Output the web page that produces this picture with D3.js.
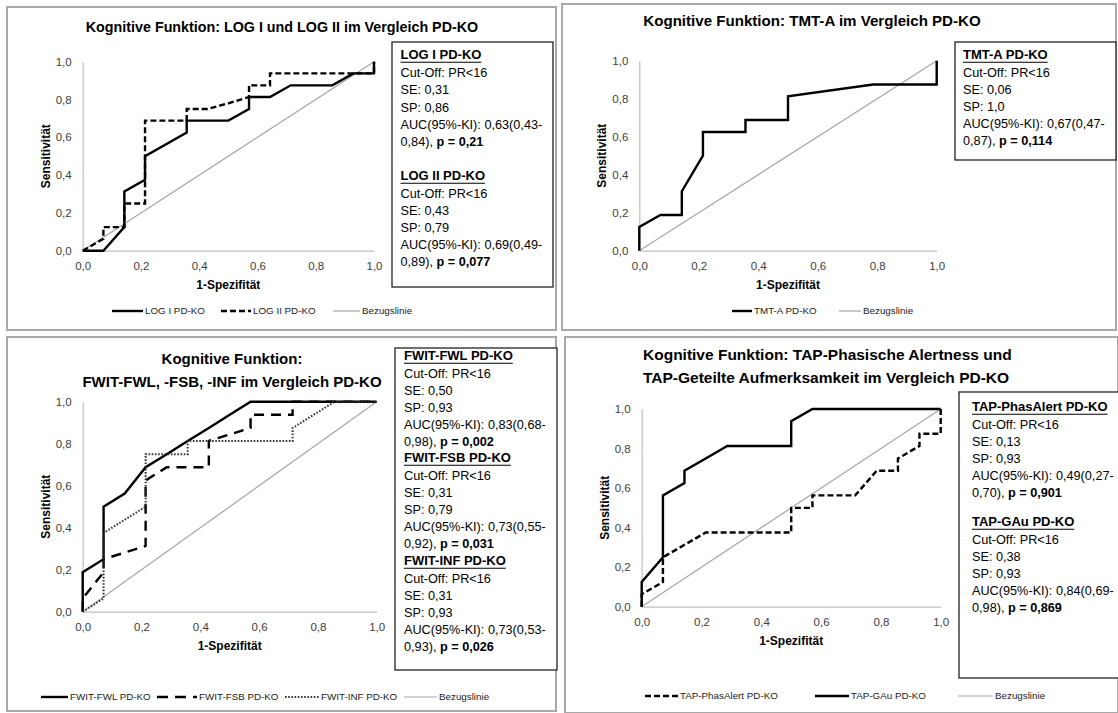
<!DOCTYPE html>
<html><head><meta charset="utf-8">
<script src="https://cdn.jsdelivr.net/npm/d3@7"></script>
<style>
body{margin:0;background:#fff;}
svg{display:block;}
text{font-family:"Liberation Sans","Arial",sans-serif;}
</style></head><body>
<svg id="c" width="1118" height="713"></svg>
<script>
// ---------- DATA ----------
const axisTicks = [0, 0.2, 0.4, 0.6, 0.8, 1.0];

const logI_x  = [0, 0.071, 0.143, 0.143, 0.214, 0.214, 0.357, 0.357, 0.5, 0.571, 0.571, 0.643, 0.714, 0.857, 0.929, 1, 1];
const logI_y  = [0, 0, 0.125, 0.313, 0.375, 0.5, 0.625, 0.688, 0.688, 0.75, 0.813, 0.813, 0.875, 0.875, 0.938, 0.938, 1];
const logII_x = [0, 0.071, 0.071, 0.143, 0.143, 0.214, 0.214, 0.357, 0.357, 0.429, 0.5, 0.571, 0.571, 0.643, 0.643, 1, 1];
const logII_y = [0, 0.063, 0.125, 0.125, 0.25, 0.25, 0.688, 0.688, 0.75, 0.75, 0.78, 0.813, 0.875, 0.875, 0.938, 0.938, 1];

const tmtA_x = [0, 0, 0.071, 0.143, 0.143, 0.214, 0.214, 0.357, 0.357, 0.5, 0.5, 0.786, 1, 1];
const tmtA_y = [0, 0.125, 0.188, 0.188, 0.313, 0.5, 0.625, 0.625, 0.688, 0.688, 0.813, 0.875, 0.875, 1];

const fwl_x = [0, 0, 0.071, 0.071, 0.143, 0.214, 0.286, 0.357, 0.429, 0.5, 0.571, 1];
const fwl_y = [0, 0.188, 0.25, 0.5, 0.563, 0.688, 0.75, 0.813, 0.875, 0.938, 1, 1];
const fsb_x = [0, 0, 0.071, 0.071, 0.214, 0.214, 0.286, 0.429, 0.429, 0.571, 0.571, 0.714, 0.714, 1];
const fsb_y = [0, 0.063, 0.188, 0.25, 0.313, 0.625, 0.688, 0.688, 0.813, 0.875, 0.938, 0.938, 1, 1];
const inf_x = [0, 0.071, 0.071, 0.214, 0.214, 0.357, 0.357, 0.714, 0.714, 0.786, 0.857, 1];
const inf_y = [0, 0.063, 0.375, 0.5, 0.75, 0.75, 0.813, 0.813, 0.875, 0.938, 1, 1];

const phas_x = [0, 0, 0.071, 0.071, 0.143, 0.214, 0.5, 0.5, 0.571, 0.571, 0.714, 0.786, 0.857, 0.857, 0.929, 0.929, 1, 1];
const phas_y = [0, 0.063, 0.125, 0.25, 0.313, 0.375, 0.375, 0.5, 0.5, 0.563, 0.563, 0.688, 0.688, 0.75, 0.813, 0.875, 0.875, 1];
const gau_x = [0, 0, 0.071, 0.071, 0.143, 0.143, 0.214, 0.286, 0.5, 0.5, 0.571, 1];
const gau_y = [0, 0.125, 0.25, 0.563, 0.625, 0.688, 0.75, 0.813, 0.813, 0.938, 1, 1];

const ref_x = [0, 1];
const ref_y = [0, 1];

const titles = [
  ["Kognitive Funktion: LOG I und LOG II im Vergleich PD-KO"],
  ["Kognitive Funktion: TMT-A im Vergleich PD-KO"],
  ["Kognitive Funktion:", "FWIT-FWL, -FSB, -INF im Vergleich PD-KO"],
  ["Kognitive Funktion: TAP-Phasische Alertness und", "TAP-Geteilte Aufmerksamkeit im Vergleich PD-KO"]
];

// stat boxes: [heading, cutoff, SE, SP, AUC line1, AUC line2 prefix, p value]
const stats1 = [
  ["LOG I PD-KO", "Cut-Off: PR<16", "SE: 0,31", "SP: 0,86", "AUC(95%-KI): 0,63(0,43-", "0,84), ", "0,21"],
  ["LOG II PD-KO", "Cut-Off: PR<16", "SE: 0,43", "SP: 0,79", "AUC(95%-KI): 0,69(0,49-", "0,89), ", "0,077"]
];
const stats2 = [
  ["TMT-A PD-KO", "Cut-Off: PR<16", "SE: 0,06", "SP: 1,0", "AUC(95%-KI): 0,67(0,47-", "0,87), ", "0,114"]
];
const stats3 = [
  ["FWIT-FWL PD-KO", "Cut-Off: PR<16", "SE: 0,50", "SP: 0,93", "AUC(95%-KI): 0,83(0,68-", "0,98), ", "0,002"],
  ["FWIT-FSB PD-KO", "Cut-Off: PR<16", "SE: 0,31", "SP: 0,79", "AUC(95%-KI): 0,73(0,55-", "0,92), ", "0,031"],
  ["FWIT-INF PD-KO", "Cut-Off: PR<16", "SE: 0,31", "SP: 0,93", "AUC(95%-KI): 0,73(0,53-", "0,93), ", "0,026"]
];
const stats4 = [
  ["TAP-PhasAlert PD-KO", "Cut-Off: PR<16", "SE: 0,13", "SP: 0,93", "AUC(95%-KI): 0,49(0,27-", "0,70), ", "0,901"],
  ["TAP-GAu PD-KO", "Cut-Off: PR<16", "SE: 0,38", "SP: 0,93", "AUC(95%-KI): 0,84(0,69-", "0,98), ", "0,869"]
];

// ---------- STYLES ----------
const ST = {
  solid:  {stroke:"#000", width:2.4, dash:null},
  dash:   {stroke:"#000", width:2.4, dash:"6,3"},
  ldash:  {stroke:"#000", width:2.4, dash:"10,7"},
  dot:    {stroke:"#333", width:2.0, dash:"1.6,1.6"},
  ref:    {stroke:"#a6a6a6", width:1.2, dash:null}
};
const zip = (xs, ys) => xs.map((x, i) => [x, ys[i]]);

const panels = [
  { frame:[7,7,556,330], plot:[82.7,374,250.7,61.7], title:titles[0], titleX:282, titleY:28, titleAnchor:"middle", titleSize:14.3,
    series:[{d:zip(logI_x,logI_y),s:ST.solid,name:"LOG I PD-KO"},{d:zip(logII_x,logII_y),s:ST.dash,name:"LOG II PD-KO"}],
    legend:{y:311, items:[[112,145,0],[221,253,1],[333,362,"ref"]]},
    box:[392,42,553,287], tx:400.5, stats:stats1, lineYs:[[56,73,90,108,125,142],[177,194,211,228,245,262]] },
  { frame:[562,4,1116,330], plot:[639.3,936.7,250.7,60.7], title:titles[1], titleX:812, titleY:22, titleAnchor:"middle", titleSize:15.1,
    series:[{d:zip(tmtA_x,tmtA_y),s:ST.solid,name:"TMT-A PD-KO"}],
    legend:{y:311, items:[[732,754,0],[839,863,"ref"]]},
    box:[955,42,1116,160], tx:963, stats:stats2, lineYs:[[56,73,90,107,124,141]] },
  { frame:[7,337,556,711], plot:[82.7,376.7,611.7,401.7], title:titles[2], titleX:232, titleY:360, titleAnchor:"middle", titleSize:15,
    series:[{d:zip(fwl_x,fwl_y),s:ST.solid,name:"FWIT-FWL PD-KO"},{d:zip(fsb_x,fsb_y),s:ST.ldash,name:"FWIT-FSB PD-KO"},{d:zip(inf_x,inf_y),s:ST.dot,name:"FWIT-INF PD-KO"}],
    legend:{y:697, items:[[41,70,0],[157,199,1,"11,7"],[285,321,2],[404,439,"ref"]]},
    box:[395,348,557,670], tx:404, stats:stats3, lineYs:[[357,374,391,408,425,442],[459,476,493,510,527,544],[562,579,596,613,630,647]] },
  { frame:[565,337,1118,713], plot:[641.7,940.7,606.7,409], title:titles[3], titleX:643, titleY:356, titleAnchor:"start", titleSize:15.5,
    series:[{d:zip(phas_x,phas_y),s:ST.dash,name:"TAP-PhasAlert PD-KO"},{d:zip(gau_x,gau_y),s:ST.solid,name:"TAP-GAu PD-KO"}],
    legend:{y:696, items:[[645,680,0],[815,851,1],[958,995,"ref"]]},
    box:[959,392,1120,678], tx:972, stats:stats4, lineYs:[[408,425,442,459,476,493],[523,540,557,574,591,608]] }
];

const svg = d3.select("#c");
const fmt = d => d.toFixed(1).replace(".", ",");

panels.forEach(p => {
  const g = svg.append("g");
  const [fx0, fy0, fx1, fy1] = p.frame;
  g.append("rect").attr("x", fx0).attr("y", fy0).attr("width", fx1 - fx0).attr("height", fy1 - fy0)
    .attr("fill", "#fff").attr("stroke", "#a9a9a9").attr("stroke-width", 2);

  p.title.forEach((t, i) => {
    g.append("text").attr("x", p.titleX).attr("y", p.titleY + i * 23).attr("text-anchor", p.titleAnchor)
      .attr("dominant-baseline", "middle").attr("font-size", p.titleSize).attr("font-weight", "bold").attr("fill", "#000").text(t);
  });

  const [px0, px1, py0, py1] = p.plot;
  const x = d3.scaleLinear().domain([0, 1]).range([px0, px1]);
  const y = d3.scaleLinear().domain([0, 1]).range([py0, py1]);

  const xa = g.append("g").attr("transform", `translate(0,${py0})`)
    .call(d3.axisBottom(x).tickValues(axisTicks).tickFormat(fmt).tickSize(0).tickPadding(11));
  const ya = g.append("g").attr("transform", `translate(${px0},0)`)
    .call(d3.axisLeft(y).tickValues(axisTicks).tickFormat(fmt).tickSize(0).tickPadding(11));
  [xa, ya].forEach(a => {
    a.select(".domain").attr("stroke", "#bfbfbf").attr("stroke-width", 1.2);
    a.selectAll("text").attr("font-size", 11.5).attr("fill", "#404040")
      .attr("font-family", "'Liberation Sans',Arial,sans-serif");
  });

  g.append("text").attr("transform", `translate(${px0 - 36},${(py0 + py1) / 2}) rotate(-90)`)
    .attr("text-anchor", "middle").attr("dominant-baseline", "middle")
    .attr("font-size", 12).attr("font-weight", "bold").text("Sensitivität");
  g.append("text").attr("x", (px0 + px1) / 2).attr("y", py0 + 35).attr("text-anchor", "middle")
    .attr("dominant-baseline", "middle").attr("font-size", 12).attr("font-weight", "bold").text("1-Spezifität");

  const line = d3.line().x(d => x(d[0])).y(d => y(d[1]));
  g.append("path").datum(zip(ref_x, ref_y)).attr("d", line).attr("fill", "none")
    .attr("stroke", ST.ref.stroke).attr("stroke-width", ST.ref.width);
  p.series.forEach(s => {
    g.append("path").datum(s.d).attr("d", line).attr("fill", "none")
      .attr("stroke", s.s.stroke).attr("stroke-width", s.s.width)
      .attr("stroke-dasharray", s.s.dash).attr("stroke-linejoin", "miter");
  });

  p.legend.items.forEach(([lx0, tx, idx, dashOverride]) => {
    const st = idx === "ref" ? ST.ref : p.series[idx].s;
    const name = idx === "ref" ? "Bezugslinie" : p.series[idx].name;
    g.append("line").attr("x1", lx0).attr("x2", tx - 2).attr("y1", p.legend.y).attr("y2", p.legend.y)
      .attr("stroke", st.stroke).attr("stroke-width", idx === "ref" ? 1.2 : st.width)
      .attr("stroke-dasharray", dashOverride || st.dash);
    g.append("text").attr("x", tx).attr("y", p.legend.y).attr("dominant-baseline", "middle")
      .attr("font-size", 9.8).attr("fill", "#222").text(name);
  });

  const [bx0, by0, bx1, by1] = p.box;
  g.append("rect").attr("x", bx0).attr("y", by0).attr("width", bx1 - bx0).attr("height", by1 - by0)
    .attr("fill", "#fff").attr("stroke", "#222").attr("stroke-width", 1.3);
  p.stats.forEach((st, k) => {
    const ys = p.lineYs[k];
    const h = g.append("text").attr("x", p.tx).attr("y", ys[0]).attr("dominant-baseline", "middle")
      .attr("font-size", 13).attr("font-weight", "bold").attr("fill", "#000").text(st[0]);
    const w = h.node().getComputedTextLength();
    g.append("line").attr("x1", p.tx).attr("x2", p.tx + w).attr("y1", ys[0] + 6.2).attr("y2", ys[0] + 6.2)
      .attr("stroke", "#000").attr("stroke-width", 1.1);
    for (let i = 1; i <= 4; i++) {
      g.append("text").attr("x", p.tx).attr("y", ys[i] + 0.5).attr("dominant-baseline", "middle")
        .attr("font-size", 12.7).attr("fill", "#000").text(st[i]);
    }
    const t = g.append("text").attr("x", p.tx).attr("y", ys[5] + 0.5).attr("dominant-baseline", "middle")
      .attr("font-size", 12.7).attr("fill", "#000");
    t.append("tspan").text(st[5]);
    t.append("tspan").attr("font-weight", "bold").text("p = " + st[6]);
  });
});
</script>
</body></html>
